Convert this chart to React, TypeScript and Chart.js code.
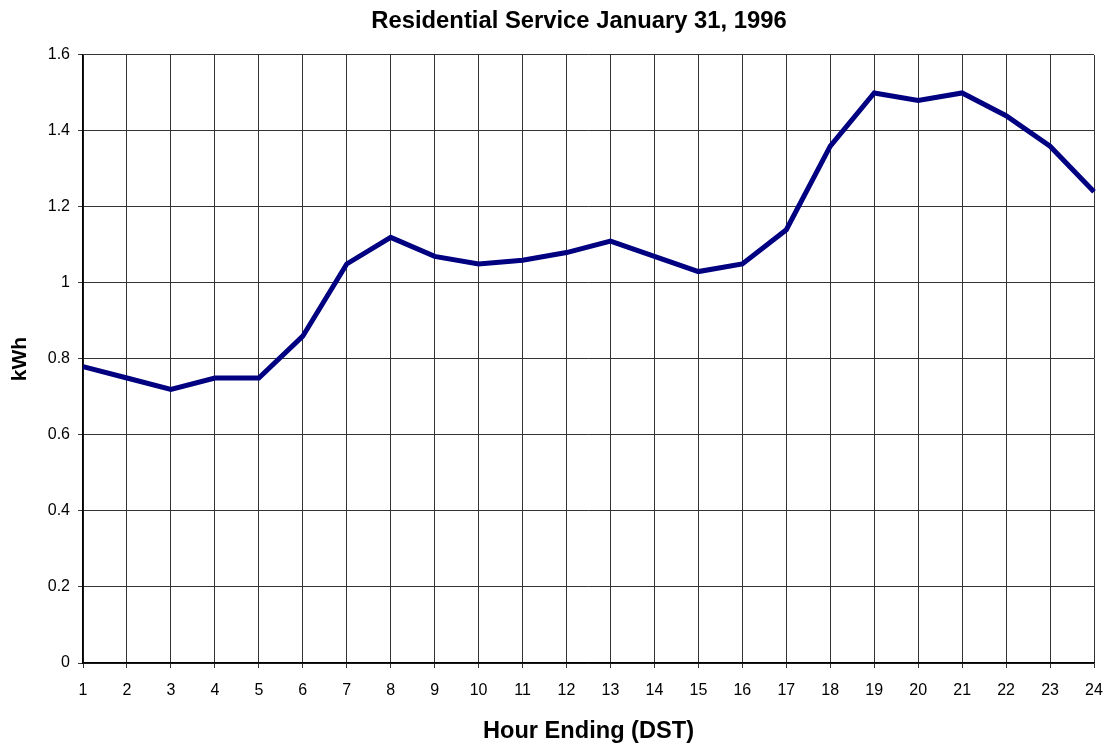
import React, { useEffect, useRef } from "react";
import { Chart, registerables } from "chart.js";

Chart.register(...registerables);

const hours = ["1", "2", "3", "4", "5", "6", "7", "8", "9", "10", "11", "12", "13", "14", "15", "16", "17", "18", "19", "20", "21", "22", "23", "24"];
const kwh = [0.78, 0.75, 0.72, 0.75, 0.75, 0.86, 1.05, 1.12, 1.07, 1.05, 1.06, 1.08, 1.11, 1.07, 1.03, 1.05, 1.14, 1.36, 1.5, 1.48, 1.5, 1.44, 1.36, 1.24];
const chartTitle = "Residential Service January 31, 1996";
const xTitle = "Hour Ending (DST)";
const yTitle = "kWh";
const yMin = 0;
const yMax = 1.6;
const yStep = 0.2;

const FONT = '"Liberation Sans", Arial, Helvetica, sans-serif';

// Shift the title box so its centre sits where the reference puts it.
const titleShift = {
  id: "titleShift",
  afterLayout(chart: any) {
    const t = chart.titleBlock;
    if (t) {
      t.left = 64;
      t.right = 1094;
      t.width = t.right - t.left;
    }
  },
};

export default function App() {
  const ref = useRef<HTMLCanvasElement | null>(null);

  useEffect(() => {
    if (!ref.current) return;
    const chart = new Chart(ref.current, {
      type: "line",
      data: {
        labels: hours,
        datasets: [
          {
            label: yTitle,
            data: kwh,
            borderColor: "#000080",
            backgroundColor: "#000080",
            borderWidth: 5,
            pointRadius: 0,
            tension: 0,
            fill: false,
            borderJoinStyle: "miter",
          },
        ],
      },
      plugins: [titleShift],
      options: {
        animation: false,
        responsive: false,
        maintainAspectRatio: false,
        layout: { padding: { left: 0, right: 0, top: 0, bottom: 0 } },
        plugins: {
          legend: { display: false },
          tooltip: { enabled: false },
          title: {
            display: true,
            text: chartTitle,
            color: "#000",
            font: { family: FONT, size: 23.8, weight: "bold" },
            padding: { top: 7.5, bottom: 18.9 },
          },
        },
        scales: {
          x: {
            type: "category",
            offset: false,
            grid: {
              color: "#333",
              lineWidth: 1,
              drawOnChartArea: true,
              drawTicks: true,
              tickLength: 5,
              tickColor: "#333",
            },
            border: { color: "#000", width: 1.5 },
            ticks: {
              color: "#000",
              font: { family: FONT, size: 16 },
              padding: 13,
              maxRotation: 0,
              autoSkip: false,
            },
            title: {
              display: true,
              text: xTitle,
              color: "#000",
              font: { family: FONT, size: 23.6, weight: "bold" },
              padding: { top: 0, bottom: 2.8 },
            },
            afterFit: (scale: any) => {
              scale.height = 85;
              scale.paddingRight = 11;
              scale.paddingLeft = 0;
            },
          },
          y: {
            type: "linear",
            min: yMin,
            max: yMax,
            grid: {
              color: "#333",
              lineWidth: 1,
              tickLength: 5,
              tickColor: "#333",
            },
            border: { color: "#000", width: 1.5 },
            ticks: {
              stepSize: yStep,
              color: "#000",
              font: { family: FONT, size: 16 },
              padding: 8,
              callback: (v: any) => String(Math.round(Number(v) * 10) / 10),
            },
            title: {
              display: true,
              text: yTitle,
              color: "#000",
              font: { family: FONT, size: 21, weight: "bold" },
              padding: { top: 7.9, bottom: 0 },
            },
            afterFit: (scale: any) => {
              scale.width = 83;
            },
          },
        },
      },
    });
    return () => chart.destroy();
  }, []);

  return (
    <div style={{ position: "fixed", left: 0, top: 0, width: 1105, height: 748, background: "#fff" }}>
      <canvas ref={ref} width={1105} height={748} style={{ display: "block", width: 1105, height: 748 }} />
    </div>
  );
}
